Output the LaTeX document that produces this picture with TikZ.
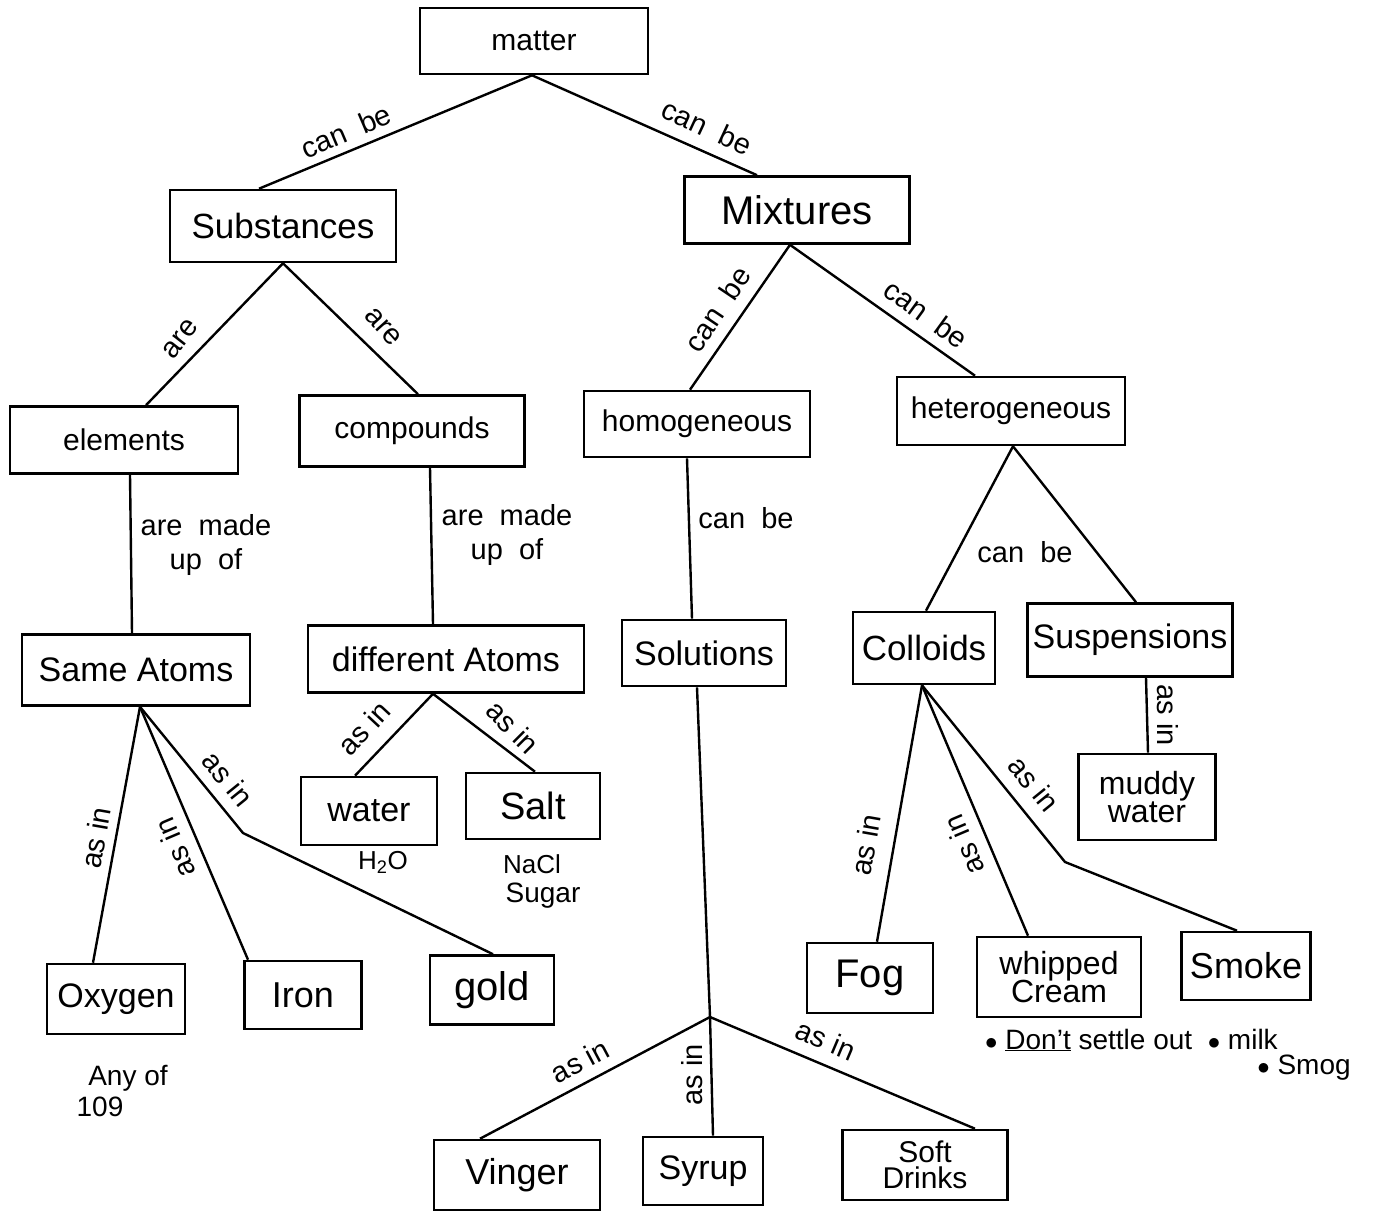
\documentclass[tikz,border=0pt]{standalone}
\usepackage{fontspec}
\setmainfont{Liberation Sans}
\begin{document}
\begin{tikzpicture}[x=1pt,y=-1pt,
 box/.style={draw, line width=2.6pt, inner sep=0pt, font=\fontsize{30}{32}\selectfont},
 hw/.style={draw, line width=2.6pt, inner sep=0pt, align=center, font=\fontsize{#1}{#1}\selectfont},
 lbl/.style={inner sep=1pt, font=\fontsize{29}{31}\selectfont},
 mlbl/.style={inner sep=1pt, align=center, font=\fontsize{29}{34}\selectfont},
 conn/.style={line width=2.4pt},
 note/.style={inner sep=0pt, align=center, font=\fontsize{#1}{#1}\selectfont}]
\useasboundingbox (0,0) rectangle (1381,1226);
% level 0-1
\node[box, minimum width=228pt, minimum height=66pt] (matter) at (534,41) {matter};
\node[hw=35, minimum width=226pt, minimum height=72pt] (subs) at (283,226) {Substances};
\node[hw=40, minimum width=225pt, minimum height=67pt] (mix) at (797,210) {Mixtures};
% level 2
\node[box, minimum width=228pt, minimum height=67pt] (elem) at (124,440) {elements};
\node[box, minimum width=225pt, minimum height=71pt] (comp) at (412,431) {compounds};
\node[box, minimum width=226pt, minimum height=66pt] (homo) at (697,424) {homogeneous};
\node[box, minimum width=228pt, minimum height=68pt] (hete) at (1011,411) {heterogeneous};
% level 3
\node[hw=34, minimum width=228pt, minimum height=71pt] (same) at (136,670) {Same Atoms};
\node[hw=34, minimum width=276pt, minimum height=67pt] (diff) at (446,659) {different Atoms};
\node[hw=34, minimum width=164pt, minimum height=66pt] (sol) at (704,653) {Solutions};
\node[hw=35, minimum width=142pt, minimum height=72pt] (coll) at (924,648) {Colloids};
\node[hw=34, minimum width=205pt, minimum height=73pt] (susp) at (1130,640) {Suspensions};
% level 4
\node[hw=34, minimum width=136pt, minimum height=68pt] (water) at (369,811) {water};
\node[hw=38, minimum width=134pt, minimum height=66pt] (salt) at (533,806) {Salt};
\node[hw=32, minimum width=137pt, minimum height=86pt] (muddy) at (1147,797) {muddy\\[-4pt]water};
% level 5
\node[hw=34, minimum width=138pt, minimum height=70pt] (oxy) at (116,999) {Oxygen};
\node[hw=36, minimum width=117pt, minimum height=68pt] (iron) at (303,995) {Iron};
\node[hw=40, minimum width=124pt, minimum height=69pt] (gold) at (492,990) {gold};
\node[hw=40, minimum width=126pt, minimum height=70pt] (fog) at (870,978) {Fog};
\node[hw=32, minimum width=164pt, minimum height=80pt] (cream) at (1059,977) {whipped\\[-4pt]Cream};
\node[hw=36, minimum width=129pt, minimum height=68pt] (smoke) at (1246,966) {Smoke};
% level 6
\node[hw=36, minimum width=166pt, minimum height=70pt] (vin) at (517,1175) {Vinger};
\node[hw=34, minimum width=120pt, minimum height=68pt] (syr) at (703,1171) {Syrup};
\node[hw=30, minimum width=165pt, minimum height=70pt] (soft) at (925,1165) {Soft\\[-4pt]Drinks};
% helper coordinates
\coordinate (jn) at (710,1017);
\coordinate (bendA) at (243,833);
\coordinate (bendB) at (1065,862);
% connectors
\draw[conn] ([xshift=-2pt]matter.south) -- ([xshift=-24pt]subs.north);
\draw[conn] ([xshift=-2pt]matter.south) -- ([xshift=-40pt]mix.north);
\draw[conn] (subs.south) -- ([xshift=22pt]elem.north);
\draw[conn] (subs.south) -- ([xshift=6pt]comp.north);
\draw[conn] ([xshift=-7pt]mix.south) -- ([xshift=-7pt]homo.north);
\draw[conn] ([xshift=-7pt]mix.south) -- ([xshift=-36pt]hete.north);
\draw[conn] ([xshift=6pt]elem.south) -- ([xshift=-4pt]same.north);
\draw[conn] ([xshift=18pt]comp.south) -- ([xshift=-13pt]diff.north);
\draw[conn] ([xshift=-10pt]homo.south) -- ([xshift=-12pt]sol.north);
\draw[conn] ([xshift=2pt]hete.south) -- ([xshift=2pt]coll.north);
\draw[conn] ([xshift=2pt]hete.south) -- ([xshift=6pt]susp.north);
\draw[conn] ([xshift=16pt]susp.south) -- ([xshift=1pt]muddy.north);
\draw[conn] ([xshift=4pt]same.south) -- ([xshift=-23pt]oxy.north);
\draw[conn] ([xshift=4pt]same.south) -- ([xshift=-55pt]iron.north);
\draw[conn] ([xshift=4pt]same.south) -- (bendA) -- ([xshift=1pt]gold.north);
\draw[conn] ([xshift=-13pt]diff.south) -- ([xshift=-14pt]water.north);
\draw[conn] ([xshift=-13pt]diff.south) -- ([xshift=2pt]salt.north);
\draw[conn] ([xshift=-7pt]sol.south) -- (jn);
\draw[conn] (jn) -- ([xshift=-37pt]vin.north);
\draw[conn] (jn) -- ([xshift=10pt]syr.north);
\draw[conn] (jn) -- ([xshift=50pt]soft.north);
\draw[conn] ([xshift=-2pt]coll.south) -- ([xshift=7pt]fog.north);
\draw[conn] ([xshift=-2pt]coll.south) -- ([xshift=-31pt]cream.north);
\draw[conn] ([xshift=-2pt]coll.south) -- (bendB) -- ([xshift=-9pt]smoke.north);
% connector labels
\node[lbl, rotate=23] (l1) at (346,131) {can\ \ be};
\node[lbl, rotate=-25] (l2) at (707,127) {can\ \ be};
\node[lbl, rotate=52] (l3) at (180,339) {are};
\node[lbl, rotate=-48] (l4) at (383,327) {are};
\node[mlbl] (l5) at (206,545) {are\ \ made\\up\ \ of};
\node[mlbl] (l6) at (507,535) {are\ \ made\\up\ \ of};
\node[lbl, rotate=56] (l7) at (717,309) {can\ \ be};
\node[lbl, rotate=-36] (l8) at (926,314) {can\ \ be};
\node[lbl] (l9) at (746,518) {can\ \ be};
\node[lbl] (l10) at (1025,552) {can\ \ be};
\node[lbl, rotate=-90] (l11) at (1168,715) {as in};
\node[lbl, rotate=80] (l12) at (96,838) {as in};
\node[lbl, rotate=113] (l13) at (175,848) {as in};
\node[lbl, rotate=-51] (l14) at (228,779) {as in};
\node[lbl, rotate=47] (l15) at (364,728) {as in};
\node[lbl, rotate=-45] (l16) at (513,727) {as in};
\node[lbl, rotate=28] (l17) at (580,1061) {as in};
\node[lbl, rotate=90] (l18) at (692,1075) {as in};
\node[lbl, rotate=-23] (l19) at (826,1040) {as in};
\node[lbl, rotate=80] (l20) at (866,845) {as in};
\node[lbl, rotate=113] (l21) at (964,845) {as in};
\node[lbl, rotate=-51] (l22) at (1034,784) {as in};
% handwritten notes
\node[note=26] (n1) at (383,862) {H\textsubscript{2}O};
\node[note=26] (n2) at (532,864) {NaCl};
\node[note=28] (n3) at (543,896) {Sugar};
\node[note=28] (n4) at (128,1078) {Any of};
\node[note=28] (n5) at (100,1107) {109};
\node[note=28, anchor=west] (n6) at (985,1040) {$\bullet$ \underline{Don't}\ settle out\ \ $\bullet$ milk};
\node[note=28] (n7) at (1304,1068) {$\bullet$ Smog};
\end{tikzpicture}
\end{document}
